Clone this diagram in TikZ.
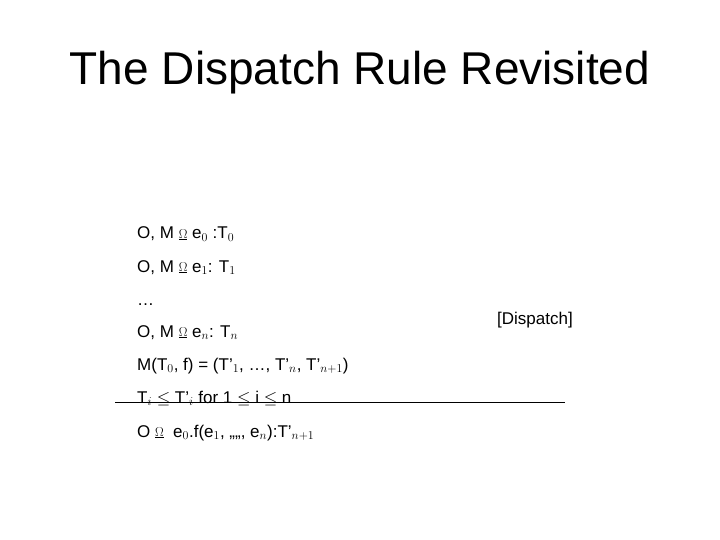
\documentclass[tikz,border=0pt]{standalone}
\usepackage{fontspec}
\setmainfont{Liberation Sans}
\usetikzlibrary{positioning}
\newcommand{\ent}{\raisebox{0.05em}{\scalebox{0.75}{$\underline{\Omega}$}}}
\begin{document}
\begin{tikzpicture}
[x=1pt,y=-1pt,
 line/.style={anchor=base west,inner sep=0pt,font=\fontsize{17}{20}\selectfont},
 title/.style={anchor=base,inner sep=0pt,font=\fontsize{46}{52}\selectfont}]
\useasboundingbox (0,0) rectangle (720,540);

\node (title) [title] at (360,85) {The Dispatch Rule Revisited};

\node (p0) [line] at (137,239) {O, M \ent{} e$_0$ :T$_0$};
\node (p1) [line] at (137,272) {O, M \ent{} e$_1$: T$_1$};
\node (dots) [line] at (137,305) {\ldots};
\node (pn) [line] at (137,337) {O, M \ent{} e$_n$: T$_n$};
\node (meth) [line] at (137,370) {M(T$_0$, f) = (T'$_1$, \ldots, T'$_n$, T'$_{n+1}$)};
\node (sub) [line] at (137,403) {T$_i$ $\leq$ T'$_i$ for 1 $\leq$ i $\leq$ n};
\node (concl) [line] at (137,437) {O \ent{}\ \ e$_0$.f(e$_1$, ,,,,, e$_n$):T'$_{n+1}$};
\node (rule) [line] at (497,324) {[Dispatch]};

\coordinate (bl) at (115,402);
\coordinate (br) at (565,402);
\draw (bl) -- (br);
\end{tikzpicture}
\end{document}
